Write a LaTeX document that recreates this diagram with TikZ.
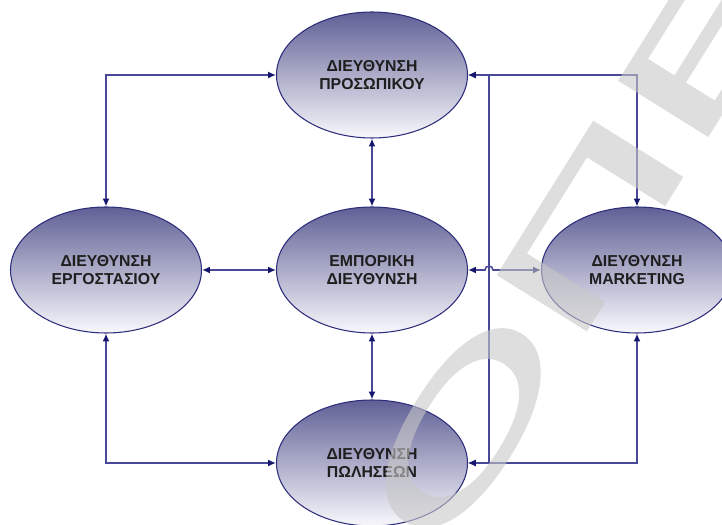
\documentclass[tikz,border=0pt]{standalone}
\usepackage{fontspec}
\setmainfont{Liberation Sans}
\newfontfamily\markfont{Liberation Sans}[FakeBold=1.5]
\usetikzlibrary{arrows.meta,shapes.geometric}

\definecolor{linkblue}{RGB}{72,72,150}
\definecolor{tipblue}{RGB}{22,22,110}
\definecolor{rimblue}{RGB}{45,45,125}
\definecolor{shadetop}{RGB}{96,96,150}
\definecolor{shademid}{RGB}{160,160,200}
\definecolor{shadebot}{RGB}{248,248,252}
\definecolor{textgray}{RGB}{30,30,30}
\definecolor{markgray}{RGB}{200,200,200}

\tikzset{
  dept/.style={ellipse, draw=rimblue, line width=0.6pt,
    top color=shadetop, middle color=shademid, bottom color=shadebot,
    minimum width=3.82cm, minimum height=2.52cm, inner sep=0pt,
    align=center, text=textgray, font=\fontsize{9}{10.5}\selectfont\bfseries},
  link/.style={linkblue, line width=0.9pt, {Latex[length=4.5pt,width=4pt,color=tipblue]}-{Latex[length=4.5pt,width=4pt,color=tipblue]}}
}

\begin{document}
\begin{tikzpicture}
   \useasboundingbox (0,0) rectangle (14.44,10.48);
   \clip (0,0) rectangle (14.44,10.48);

   \node[dept] (staff) at (7.44, 8.98) {ΔΙΕΥΘΥΝΣΗ\\ΠΡΟΣΩΠΙΚΟΥ};
   \node[dept] (works) at (2.12, 5.08) {ΔΙΕΥΘΥΝΣΗ\\ΕΡΓΟΣΤΑΣΙΟΥ};
   \node[dept] (trade) at (7.44, 5.08) {ΕΜΠΟΡΙΚΗ\\ΔΙΕΥΘΥΝΣΗ};
   \node[dept] (mkt)   at (12.74, 5.08) {ΔΙΕΥΘΥΝΣΗ\\MARKETING};
   \node[dept] (sales) at (7.44, 1.22) {ΔΙΕΥΘΥΝΣΗ\\ΠΩΛΗΣΕΩΝ};

   \coordinate (bus) at (9.78, 5.08);
   \coordinate (hop) at (9.78, 5.08);

   \draw[link] (works.north) |- (staff.west);
   \draw[link] (staff.south) -- (trade.north);
   \draw[link] (works.east) -- (trade.west);
   \draw[link] (trade.south) -- (sales.north);
   \draw[link] (works.south) |- (sales.west);
   \draw[link] (staff.east) -| (mkt.north);
   \draw[link] (mkt.south) |- (sales.east);
   \draw[link] (staff.east) -| (bus) |- (sales.east);
   \draw[link] (trade.east) -- ([xshift=-0.08cm]hop) arc[start angle=180, end angle=0, radius=0.08cm] -- (mkt.west);

   \begin{scope}[shift={(11.8, 5.96)}, rotate=58, transparency group, opacity=0.6]
     \node[xscale=2.1, transform shape, text=markgray, font=\fontsize{86}{86}\selectfont\markfont] (mark) at (0,0) {ΜΟΠΕΙΡ};
   \end{scope}
\end{tikzpicture}
\end{document}
